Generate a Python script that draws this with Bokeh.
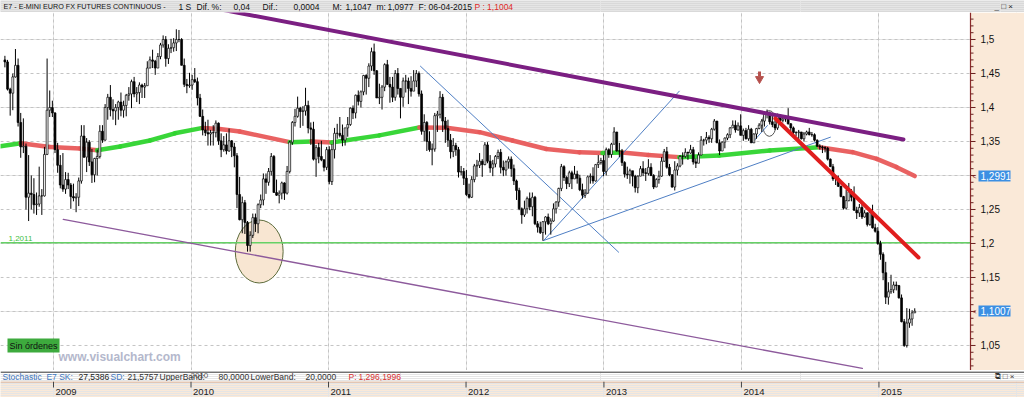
import pandas as pd
from bokeh.plotting import figure
from bokeh.layouts import column
from bokeh.models import Range1d, FixedTicker, Label, Grid, ColumnDataSource
from bokeh.embed import file_html
from bokeh.resources import INLINE
from bokeh.core.properties import value

FONT = "Liberation Sans"
PEACH = "#fae9d8"

# ---------------- data (weekly E7 candles) ----------------
first_week = "2008-08-25"
first_open = 1.4700
close = [
 # 2008
 1.4670,1.4270,1.4210,1.4450,1.4620,1.3780,1.3420,1.3430,1.2680,1.2740,1.2720,1.2570,1.2580,1.2700,1.2700,1.3310,1.3960,1.4000,1.3920,
 # 2009
 1.3380,1.3150,1.2860,1.2800,1.2940,1.2860,1.2690,1.2670,1.2680,1.2920,1.3580,1.3270,1.3490,1.3200,1.3010,1.3250,1.3280,1.3650,1.3520,1.4000,
 1.4150,1.3970,1.3950,1.4000,1.4080,1.3960,1.4030,1.4180,1.4200,1.4380,1.4200,1.4220,1.4330,1.4300,1.4320,1.4580,1.4700,1.4680,1.4580,1.4750,
 1.4920,1.5000,1.4720,1.4870,1.4880,1.4950,1.5000,1.5000,1.4620,1.4340,1.4320,1.4330,
 # 2010
 1.4410,1.4380,1.4140,1.3870,1.3670,1.3630,1.3610,1.3630,1.3630,1.3770,1.3510,1.3380,1.3450,1.3360,1.3510,1.3420,1.3290,1.2720,1.2350,1.2600,
 1.2310,1.1970,1.2120,1.2380,1.2290,1.2570,1.2640,1.2950,1.2900,1.3060,1.3280,1.2750,1.2710,1.2740,1.2890,1.2740,1.3060,1.3490,1.3780,1.3870,
 1.3990,1.3940,1.3950,1.4030,1.3700,1.3680,1.3240,1.3410,1.3280,1.3230,1.3120,1.3380,
 # 2011
 1.2910,1.3380,1.3620,1.3620,1.3590,1.3520,1.3700,1.3750,1.3990,1.3920,1.4180,1.4090,1.4230,1.4470,1.4430,1.4610,1.4820,1.4540,1.4140,1.4150,
 1.4300,1.4630,1.4340,1.4300,1.4150,1.4500,1.4280,1.4150,1.4390,1.4390,1.4280,1.4240,1.4390,1.4500,1.4200,1.3650,1.3780,1.3500,1.3380,1.3390,
 1.3880,1.3900,1.4150,1.3800,1.3690,1.3520,1.3350,1.3440,1.3380,1.3050,1.3060,1.2960,
 # 2012
 1.2720,1.2680,1.2940,1.3140,1.3150,1.3210,1.3160,1.3450,1.3210,1.3110,1.3170,1.3280,1.3340,1.3120,1.3080,1.3200,1.3240,1.3100,1.2920,1.2780,
 1.2510,1.2420,1.2510,1.2660,1.2540,1.2680,1.2290,1.2240,1.2160,1.2320,1.2390,1.2290,1.2330,1.2510,1.2610,1.2810,1.3130,1.2970,1.2880,1.3040,
 1.2950,1.3020,1.2960,1.2790,1.2710,1.2740,1.2980,1.2990,1.2920,1.3160,1.3190,1.3220,1.3060,
 # 2013
 1.3380,1.3310,1.3460,1.3640,1.3360,1.3360,1.3190,1.3020,1.3010,1.3070,1.2990,1.2820,1.2990,1.3100,1.3040,1.3030,1.3120,1.3000,1.2830,1.2940,
 1.2990,1.3210,1.3350,1.3120,1.3010,1.2830,1.3080,1.3140,1.3280,1.3280,1.3340,1.3330,1.3380,1.3200,1.3180,1.3300,1.3520,1.3520,1.3560,1.3540,
 1.3680,1.3800,1.3480,1.3360,1.3490,1.3550,1.3600,1.3700,1.3740,1.3670,1.3730,1.3590,
 # 2014
 1.3660,1.3540,1.3680,1.3480,1.3610,1.3690,1.3740,1.3800,1.3910,1.3920,1.3790,1.3750,1.3700,1.3890,1.3810,1.3830,1.3870,1.3760,1.3700,1.3630,
 1.3630,1.3640,1.3540,1.3610,1.3640,1.3600,1.3600,1.3520,1.3430,1.3420,1.3410,1.3400,1.3240,1.3130,1.2950,1.2960,1.2840,1.2690,1.2520,1.2630,
 1.2760,1.2680,1.2490,1.2450,1.2530,1.2390,1.2450,1.2280,1.2460,1.2230,1.2180,1.2000,
 # 2015
 1.1840,1.1570,1.1210,1.1290,1.1320,1.1390,1.1380,1.1200,1.0850,1.0500,1.0830,1.0890,1.0980,1.1004,
]
high = [
 1.4760,1.4700,1.4290,1.4500,1.4860,1.4720,1.3920,1.3840,1.3470,1.3300,1.3000,1.2960,1.2750,1.3130,1.2800,1.3420,1.4720,1.4250,1.4100,
 1.3930,1.3480,1.3300,1.3330,1.3050,1.3040,1.2890,1.2880,1.2740,1.2970,1.3740,1.3740,1.3550,1.3520,1.3390,1.3260,1.3380,1.3740,1.3740,1.4050,
 1.4200,1.4330,1.4120,1.4050,1.4100,1.4220,1.4100,1.4200,1.4300,1.4410,1.4450,1.4300,1.4370,1.4350,1.4360,1.4680,1.4750,1.4850,1.4700,1.4800,
 1.4950,1.5060,1.5050,1.4930,1.5010,1.5020,1.5150,1.5140,1.5020,1.4720,1.4420,1.4510,
 1.4480,1.4580,1.4440,1.4200,1.3970,1.3790,1.3820,1.3670,1.3740,1.3810,1.3780,1.3620,1.3580,1.3620,1.3690,1.3520,1.3480,1.3330,1.2980,1.2690,
 1.2640,1.2330,1.2180,1.2440,1.2440,1.2590,1.2720,1.3030,1.3030,1.3110,1.3330,1.3300,1.2940,1.2780,1.2910,1.2900,1.3140,1.3510,1.3800,1.3980,
 1.4160,1.4010,1.4020,1.4290,1.4100,1.3780,1.3790,1.3450,1.3480,1.3510,1.3240,1.3420,
 1.3430,1.3460,1.3700,1.3760,1.3860,1.3750,1.3700,1.3860,1.4000,1.4030,1.4190,1.4250,1.4250,1.4480,1.4490,1.4650,1.4880,1.4940,1.4550,1.4350,
 1.4330,1.4650,1.4700,1.4450,1.4450,1.4550,1.4580,1.4280,1.4440,1.4480,1.4440,1.4460,1.4550,1.4550,1.4530,1.4250,1.3900,1.3800,1.3650,1.3470,
 1.3920,1.3950,1.4240,1.4200,1.3860,1.3820,1.3610,1.3550,1.3480,1.3420,1.3140,1.3110,
 1.3080,1.2880,1.2990,1.3170,1.3230,1.3330,1.3240,1.3490,1.3490,1.3300,1.3230,1.3300,1.3380,1.3390,1.3220,1.3220,1.3280,1.3280,1.3160,1.2940,
 1.2820,1.2530,1.2630,1.2690,1.2750,1.2750,1.2700,1.2330,1.2320,1.2330,1.2400,1.2440,1.2370,1.2590,1.2620,1.2820,1.3170,1.3150,1.2990,1.3070,
 1.3070,1.3140,1.3070,1.3010,1.2880,1.2800,1.3000,1.3030,1.3120,1.3170,1.3300,1.3260,1.3300,
 1.3410,1.3400,1.3480,1.3710,1.3640,1.3480,1.3390,1.3210,1.3130,1.3100,1.3050,1.3010,1.3000,1.3140,1.3210,1.3110,1.3240,1.3180,1.3020,1.2960,
 1.3070,1.3270,1.3390,1.3420,1.3170,1.3020,1.3210,1.3180,1.3300,1.3340,1.3400,1.3350,1.3450,1.3420,1.3250,1.3340,1.3580,1.3540,1.3640,1.3590,
 1.3700,1.3830,1.3800,1.3530,1.3500,1.3560,1.3620,1.3710,1.3810,1.3810,1.3780,1.3900,
 1.3690,1.3700,1.3740,1.3700,1.3620,1.3700,1.3770,1.3830,1.3910,1.3970,1.3940,1.3880,1.3810,1.3910,1.3900,1.3860,1.3890,1.3990,1.3770,1.3720,
 1.3650,1.3670,1.3640,1.3640,1.3660,1.3700,1.3640,1.3620,1.3530,1.3460,1.3440,1.3430,1.3420,1.3250,1.3170,1.2990,1.3000,1.2850,1.2700,1.2790,
 1.2890,1.2800,1.2840,1.2540,1.2580,1.2600,1.2490,1.2460,1.2470,1.2570,1.2290,1.2240,
 1.2040,1.1870,1.1730,1.1430,1.1540,1.1440,1.1440,1.1390,1.1250,1.0890,1.1050,1.1040,1.1020,1.1047,
]
low = [
 1.4590,1.4250,1.3880,1.3960,1.4440,1.3720,1.3260,1.3330,1.2500,1.2330,1.2500,1.2440,1.2420,1.2540,1.2420,1.2690,1.3300,1.3860,1.3860,
 1.3330,1.3040,1.2810,1.2760,1.2730,1.2800,1.2510,1.2620,1.2460,1.2550,1.2880,1.3260,1.3050,1.3140,1.2890,1.2900,1.3000,1.3250,1.3480,1.3510,
 1.3820,1.3870,1.3820,1.3740,1.3820,1.3870,1.3850,1.3870,1.4100,1.3990,1.4150,1.4080,1.4050,1.4140,1.4140,1.4320,1.4580,1.4580,1.4480,1.4590,
 1.4710,1.4880,1.4600,1.4640,1.4800,1.4820,1.4830,1.4960,1.4620,1.4300,1.4210,1.4290,
 1.4260,1.4360,1.4030,1.3860,1.3590,1.3580,1.3440,1.3440,1.3440,1.3560,1.3450,1.3270,1.3350,1.3310,1.3350,1.3270,1.3120,1.2520,1.2340,1.2150,
 1.2140,1.1880,1.1880,1.2080,1.2170,1.2150,1.2520,1.2560,1.2730,1.2850,1.3000,1.2750,1.2700,1.2590,1.2650,1.2640,1.2720,1.3030,1.3450,1.3720,
 1.3850,1.3700,1.3730,1.3880,1.3620,1.3450,1.3220,1.2980,1.3180,1.3210,1.3060,1.3080,
 1.2870,1.2860,1.3250,1.3540,1.3560,1.3430,1.3440,1.3570,1.3730,1.3830,1.3840,1.4030,1.4000,1.4180,1.4190,1.4300,1.4540,1.4480,1.4140,1.4050,
 1.3970,1.4240,1.4330,1.4070,1.4080,1.4100,1.4190,1.3840,1.4010,1.4220,1.4050,1.4160,1.4290,1.4300,1.4160,1.3600,1.3500,1.3360,1.3350,1.3150,
 1.3350,1.3640,1.3840,1.3640,1.3480,1.3420,1.3250,1.3270,1.3290,1.2970,1.3000,1.2860,
 1.2700,1.2660,1.2670,1.2900,1.2980,1.3110,1.2980,1.3150,1.3180,1.3040,1.2990,1.3120,1.3240,1.3030,1.2990,1.3000,1.3100,1.2980,1.2860,1.2640,
 1.2490,1.2290,1.2390,1.2440,1.2490,1.2400,1.2270,1.2160,1.2140,1.2040,1.2130,1.2270,1.2130,1.2320,1.2440,1.2540,1.2770,1.2920,1.2800,1.2830,
 1.2800,1.2950,1.2880,1.2770,1.2660,1.2670,1.2730,1.2880,1.2880,1.2910,1.3110,1.3160,1.2990,
 1.3000,1.3260,1.3260,1.3460,1.3350,1.3270,1.3140,1.2970,1.2950,1.2880,1.2840,1.2750,1.2740,1.2990,1.2990,1.2920,1.3000,1.2990,1.2800,1.2830,
 1.2880,1.2980,1.3200,1.3100,1.2990,1.2820,1.2780,1.3000,1.3120,1.3160,1.3260,1.3230,1.3320,1.3160,1.3110,1.3200,1.3300,1.3440,1.3460,1.3480,
 1.3480,1.3660,1.3480,1.3300,1.3360,1.3400,1.3520,1.3550,1.3700,1.3630,1.3660,1.3590,
 1.3510,1.3530,1.3510,1.3480,1.3480,1.3540,1.3680,1.3640,1.3720,1.3840,1.3750,1.3710,1.3670,1.3670,1.3790,1.3780,1.3790,1.3750,1.3650,1.3610,
 1.3580,1.3500,1.3530,1.3500,1.3590,1.3590,1.3570,1.3500,1.3420,1.3380,1.3330,1.3340,1.3220,1.3130,1.2920,1.2860,1.2830,1.2680,1.2500,1.2500,
 1.2620,1.2620,1.2480,1.2360,1.2390,1.2360,1.2380,1.2250,1.2260,1.2220,1.2160,1.1980,
 1.1760,1.1460,1.1110,1.1100,1.1260,1.1270,1.1310,1.1190,1.0840,1.0480,1.0470,1.0760,1.0790,1.0977,
]

# long moving average (green = rising, red = falling)
ma_dates = ["2008-08-13","2008-10-06","2008-12-22","2009-03-12","2009-04-27","2009-06-27","2009-09-14",
            "2009-11-19","2010-02-01","2010-03-18","2010-05-10","2010-09-20","2010-11-17","2011-01-09",
            "2011-05-16","2011-08-30","2011-11-10","2012-02-06","2012-05-03","2012-08-01","2012-10-28",
            "2012-12-28","2013-02-18","2013-04-29","2013-07-20","2013-11-03","2014-03-17","2014-07-27",
            "2014-10-23","2014-12-26","2015-02-17","2015-04-06"]
ma_vals = [1.3430,1.3475,1.3420,1.3397,1.3370,1.3426,1.3515,1.3620,1.3700,1.3685,1.3647,1.3490,1.3500,
           1.3485,1.3590,1.3706,1.3702,1.3637,1.3515,1.3390,1.3340,1.3332,1.3337,1.3300,1.3270,1.3294,
           1.3368,1.3416,1.3343,1.3245,1.3122,1.2991]

# drawn studies: (date0, price0, date1, price1)
purple_top = ("2010-03-07", 1.5456, "2015-03-07", 1.3530)
purple_low = ("2009-01-27", 1.2353, "2014-11-18", 1.0162)
blue_lines = [("2011-09-02", 1.4607, "2013-02-09", 1.1872),
              ("2012-07-25", 1.2044, "2013-07-20", 1.4240),
              ("2012-07-25", 1.2044, "2014-08-25", 1.3563),
              ("2014-01-30", 1.3484, "2014-03-11", 1.3734)]
red_line = ("2014-04-01", 1.3838, "2015-04-16", 1.1794)
support_level = 1.2011
support_text = "1,2011"
big_ellipse = ("2010-07-01", 1.1882, 127, 0.0926)   # centre date, price, width (days), height (price)
small_ellipse = ("2014-03-16", 1.3765, 37, 0.0380)
arrow_date, arrow_top, arrow_tip = "2014-02-18", 1.4530, 1.4420

ytick_vals = [1.05, 1.1, 1.15, 1.2, 1.25, 1.3, 1.35, 1.4, 1.45, 1.5]
ytick_labels = ["1,05", "", "1,15", "1,2", "1,25", "", "1,35", "1,4", "1,45", "1,5"]
minor_ticks = [1.02, 1.03, 1.04, 1.06, 1.07, 1.08, 1.09, 1.11, 1.12, 1.13, 1.14, 1.16, 1.17, 1.18, 1.19,
               1.21, 1.22, 1.23, 1.24, 1.26, 1.27, 1.28, 1.29, 1.31, 1.32, 1.33, 1.34, 1.36, 1.37, 1.38,
               1.39, 1.41, 1.42, 1.43, 1.44, 1.46, 1.47, 1.48, 1.49, 1.51, 1.52, 1.53]
years = [2009, 2010, 2011, 2012, 2013, 2014, 2015]
badge_vals = [1.2991, 1.1007]
badge_texts = ["1,2991", "1,1007"]

title_parts = [(3, "E7 - E-MINI EURO FX FUTURES CONTINUOUS -", "#111111", "7.2px"),
               (178, "1 S", "#111111", "8.5px"), (196, "Dif. %:", "#111111", "8.5px"),
               (233, "0,04", "#111111", "8.5px"), (262, "Dif.:", "#111111", "8.5px"),
               (293, "0,0004", "#111111", "8.5px"), (332, "M:", "#111111", "8.5px"),
               (345, "1,1047", "#111111", "8.5px"), (376, "m:", "#111111", "8.5px"),
               (387, "1,0977", "#111111", "8.5px"), (418, "F:", "#111111", "8.5px"),
               (428, "06-04-2015", "#111111", "8.5px"), (474, "P : 1,1004", "#e02828", "8.5px")]
stoch_parts = [(2, "Stochastic_E7 SK:", "#3f78c0"), (78, "27,5386", "#222222"), (110, "SD:", "#3f78c0"),
               (127, "21,5757", "#333333"), (159, "UpperBand:", "#333333"), (218, "80,0000", "#333333"),
               (250, "LowerBand:", "#333333"), (305, "20,0000", "#333333"),
               (348, "P:", "#d83030"), (358, "1,296,1996", "#d83030")]

# ---------------- build ----------------
x_start = pd.Timestamp("2008-08-13 07:40")
x_end = pd.Timestamp("2015-09-01")            # right edge of the price area (970 px)
PX = (x_end - x_start) / 970                  # one screen pixel along x
x_full = x_start + PX * 1024                  # right edge of the window
yr = Range1d(1.0132, 1.5397)

dates = pd.date_range(first_week, periods=len(close), freq="W-MON")
opens = [first_open] + close[:-1]
src = ColumnDataSource(dict(
    date=dates, high=high, low=low,
    top=[max(o, c) for o, c in zip(opens, close)],
    bottom=[min(o, c) for o, c in zip(opens, close)],
    fill=["white" if c >= o else "black" for o, c in zip(opens, close)],
))

def fig(h, xr, yrange, bg):
    return figure(width=1024, height=h, x_range=xr, y_range=yrange, toolbar_location=None,
                  output_backend="svg", x_axis_location=None, y_axis_location=None,
                  min_border=0, background_fill_color=bg, border_fill_color=bg, outline_line_color=None)

p = fig(358, Range1d(x_start, x_full), yr, "white")

year_x = [pd.Timestamp(f"{y}-01-01") for y in years]
p.add_layout(Grid(dimension=0, ticker=FixedTicker(ticks=[t.value // 10**6 for t in year_x]),
                  grid_line_color="#c4c4c4", grid_line_dash="3 3", grid_line_width=1))
p.segment(x0=[x_start] * len(ytick_vals), y0=ytick_vals, x1=[x_end] * len(ytick_vals), y1=ytick_vals,
          line_color="#c4c4c4", line_dash="3 3", line_width=1)

# ellipses
p.ellipse(x=[pd.Timestamp(big_ellipse[0])], y=[big_ellipse[1]], width=big_ellipse[2] * 86400000,
          height=big_ellipse[3], fill_color="#f8e6d2", line_color="#5d6b3b", line_width=1)
p.ellipse(x=[pd.Timestamp(small_ellipse[0])], y=[small_ellipse[1]], width=small_ellipse[2] * 86400000,
          height=small_ellipse[3], fill_color=None, line_color="#555555", line_width=1)

# support line
p.segment(x0=[x_start], y0=[support_level], x1=[x_end], y1=[support_level], line_color="#66d166", line_width=1.5)
p.text(x=[x_start + 8 * PX], y=[support_level], text=[support_text], y_offset=-2, text_font=value(FONT),
       text_font_size="8px", text_color="#3fbf3f", text_baseline="bottom")

# moving average
ma_x = [pd.Timestamp(d) for d in ma_dates]
p.segment(x0=ma_x[:-1], y0=ma_vals[:-1], x1=ma_x[1:], y1=ma_vals[1:],
          line_color=["#2ed42e" if b > a else "#e85a5a" for a, b in zip(ma_vals[:-1], ma_vals[1:])],
          line_width=4.5, line_cap="round", line_alpha=0.95)

def seg(t, color, width):
    p.segment(x0=[pd.Timestamp(t[0])], y0=[t[1]], x1=[pd.Timestamp(t[2])], y1=[t[3]],
              line_color=color, line_width=width, line_cap="round")

seg(purple_low, "#8d5a9c", 1.3)
for b in blue_lines:
    seg(b, "#4f7fc4", 1)

# candles
p.segment(x0="date", y0="low", x1="date", y1="high", source=src, line_color="black", line_width=1)
p.vbar(x="date", width=5 * 86400000, top="top", bottom="bottom", fill_color="fill",
       line_color="black", line_width=0.7, source=src)

seg(purple_top, "#7b1f82", 4)
seg(red_line, "#e01e1e", 4)

# arrow marker
ad = pd.Timestamp(arrow_date)
p.segment(x0=[ad], y0=[arrow_top], x1=[ad], y1=[arrow_tip + 0.004], line_color="#b5504c", line_width=3)
p.scatter(x=[ad], y=[arrow_tip], marker="inverted_triangle", size=8, fill_color="#b5504c", line_color="#b5504c")

# labels inside chart
p.add_layout(Label(x=7, y=18, x_units="screen", y_units="screen", text="Sin órdenes",
                   text_font=FONT, text_font_size="9px", text_color="#111111",
                   background_fill_color="#3daa3d", padding=2))
p.add_layout(Label(x=58, y=7, x_units="screen", y_units="screen", text="www.visualchart.com",
                   text_font=FONT, text_font_size="12px", text_font_style="bold", text_color="#b4b8cc"))

# ---- price scale panel on the right ----
p.quad(left=[x_end], right=[x_full], bottom=[yr.start], top=[yr.end], fill_color=PEACH, line_color=None)
p.segment(x0=[x_end], y0=[yr.start], x1=[x_end], y1=[yr.end], line_color="#8b2a2a", line_width=1.2)
p.segment(x0=[x_end] * len(ytick_vals), y0=ytick_vals, x1=[x_end + 5 * PX] * len(ytick_vals), y1=ytick_vals,
          line_color="#6b2020", line_width=1)
p.segment(x0=[x_end] * len(minor_ticks), y0=minor_ticks, x1=[x_end + 3 * PX] * len(minor_ticks), y1=minor_ticks,
          line_color="#6b2020", line_width=1)
p.text(x=[x_end + 10 * PX] * len(ytick_vals), y=ytick_vals, text=ytick_labels, text_font=value(FONT),
       text_font_size="10px", text_baseline="middle", text_color="#111111")
p.rect(x=[x_end + 24 * PX] * 2, y=badge_vals, width=(32 * PX).total_seconds() * 1000, height=11,
       height_units="screen", fill_color="#3b8fe3", line_color=None)
p.text(x=[x_end + 10 * PX] * 2, y=badge_vals, text=badge_texts, text_font=value(FONT), text_font_size="10px",
       text_baseline="middle", text_color="white")
p.text(x=[x_end + 2 * PX] * 2, y=badge_vals, text=["<", "<"], text_font=value(FONT), text_font_size="7px",
       text_baseline="middle", text_color="#8b2a2a")

# ---------------- title bar ----------------
pt = fig(12, Range1d(0, 1024), Range1d(0, 12), "#d9d9d9")
for xx, tt, cc, fs in title_parts:
    pt.text(x=[xx], y=[6], text=[tt], text_font=value(FONT), text_font_size=fs,
            text_baseline="middle", text_color=cc)
pt.text(x=[994], y=[6], text=["_ □ ×"], text_font=value(FONT), text_font_size="8px",
        text_baseline="middle", text_color="#222222")

# ---------------- stochastic strip ----------------
ps = fig(11, Range1d(0, 1024), Range1d(0, 11), "white")
ps.segment(x0=[0], y0=[10.5], x1=[1024], y1=[10.5], line_color="black", line_width=1)
for xx, tt, cc in stoch_parts:
    ps.text(x=[xx], y=[6], text=[tt], text_font=value(FONT), text_font_size="8.5px",
            text_baseline="middle", text_color=cc)
ps.text(x=[190], y=[7], text=["2010"], text_font=value(FONT), text_font_size="8px",
        text_baseline="middle", text_color="#333333", text_alpha=0.8)
ps.text(x=[994], y=[6], text=["⧉ □ ×"], text_font=value(FONT), text_font_size="8px",
        text_baseline="middle", text_color="#333333")

# ---------------- time axis ----------------
pa = fig(16, Range1d(x_start, x_full), Range1d(0, 16), PEACH)
pa.segment(x0=[x_start], y0=[15.5], x1=[x_full], y1=[15.5], line_color="#c9a48f", line_width=1)
pa.segment(x0=year_x, y0=[16] * len(year_x), x1=year_x, y1=[10] * len(year_x), line_color="#444444", line_width=1)
pa.text(x=year_x, y=[3] * len(year_x), text=[str(y) for y in years], x_offset=2,
        text_font=value(FONT), text_font_size="9.5px", text_baseline="bottom", text_color="#222222")

layout = column(pt, p, ps, pa, spacing=0)
open("out.html", "w").write(file_html(layout, INLINE))
